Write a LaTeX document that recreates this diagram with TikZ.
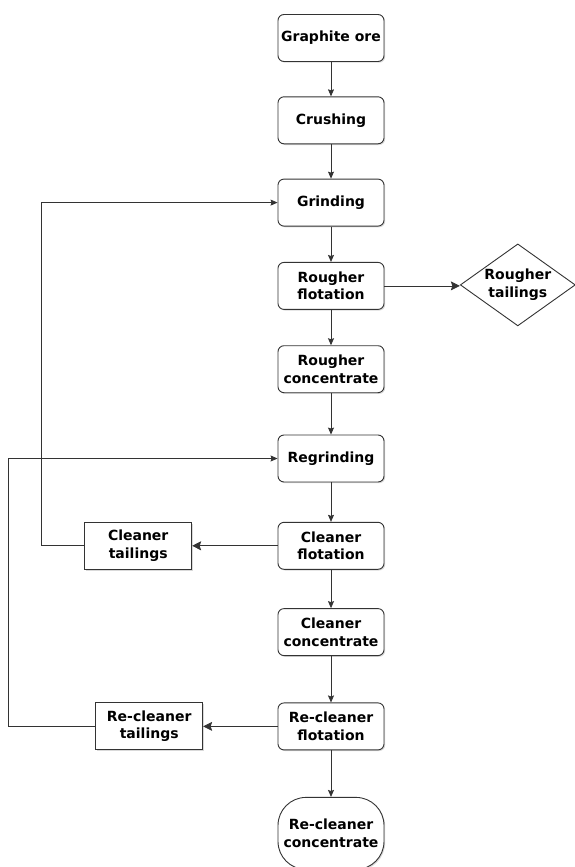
\documentclass[tikz,border=0pt]{standalone}
\usepackage{fontspec}
\setmainfont{DejaVu Sans}
\usetikzlibrary{arrows.meta,positioning,shapes.geometric,shadows}

\begin{document}
\begin{tikzpicture}[
    x=1pt, y=1pt,
    block/.style={draw=black!80, fill=white, rounded corners=6pt, line width=0.9pt, align=center, inner sep=2pt, minimum width=106pt, minimum height=47pt, font=\bfseries\fontsize{14}{17.5}\selectfont, drop shadow={shadow xshift=1.2pt, shadow yshift=-1.2pt, opacity=0.3}},
    tailbox/.style={block, rounded corners=0pt, minimum width=107pt},
    endbox/.style={block, rounded corners=28pt, minimum height=72pt},
    decision/.style={diamond, draw=black!80, fill=white, line width=0.9pt, aspect=1.4, align=center, inner sep=-4pt, minimum width=115pt, minimum height=82pt, font=\bfseries\fontsize{14}{17.5}\selectfont},
    arrow/.style={-{Stealth[length=7pt, width=6pt, inset=1pt]}, line width=0.8pt, draw=black!80},
    bigarrow/.style={-{Stealth[length=9pt, width=9pt, inset=1.5pt]}, line width=0.8pt, draw=black!80}
]
\useasboundingbox (0,0) rectangle (574,-867);

\node[block] (ore) at (331,-38) {Graphite ore};
\node[block, below=34.4pt of ore] (crush) {Crushing};
\node[block, below=34.4pt of crush] (grind) {Grinding};
\node[block, below=35.4pt of grind] (rflot) {Rougher\\flotation};
\node[decision, right=75.4pt of rflot, yshift=1pt] (rtail) {Rougher\\tailings};
\node[block, below=35.4pt of rflot] (rconc) {Rougher\\concentrate};
\node[block, below=41.4pt of rconc] (regrind) {Regrinding};
\node[block, below=39.4pt of regrind] (cflot) {Cleaner\\flotation};
\node[tailbox, left=85.4pt of cflot] (ctail) {Cleaner\\tailings};
\node[block, below=38.4pt of cflot] (cconc) {Cleaner\\concentrate};
\node[block, below=46.4pt of cconc] (rcflot) {Re-cleaner\\flotation};
\node[tailbox, left=74.4pt of rcflot] (rctail) {Re-cleaner\\tailings};
\node[endbox, below=46.6pt of rcflot] (rcconc) {Re-cleaner\\concentrate};

% main line
\draw[arrow] (ore) -- (crush);
\draw[arrow] (crush) -- (grind);
\draw[arrow] (grind) -- (rflot);
\draw[arrow] (rflot) -- (rconc);
\draw[arrow] (rconc) -- (regrind);
\draw[arrow] (regrind) -- (cflot);
\draw[arrow] (cflot) -- (cconc);
\draw[arrow] (cconc) -- (rcflot);
\draw[arrow] (rcflot) -- (rcconc);

% tailings
\draw[bigarrow] (rflot) -- (rflot -| rtail.west);
\draw[bigarrow] (cflot) -- (ctail);
\draw[bigarrow] (rcflot) -- (rctail);

% recycle loops
\draw[arrow] (ctail.west) -- ++(-43,0) |- (grind.west);
\draw[arrow] (rctail.west) -- ++(-87,0) |- (regrind.west);

\end{tikzpicture}
\end{document}
